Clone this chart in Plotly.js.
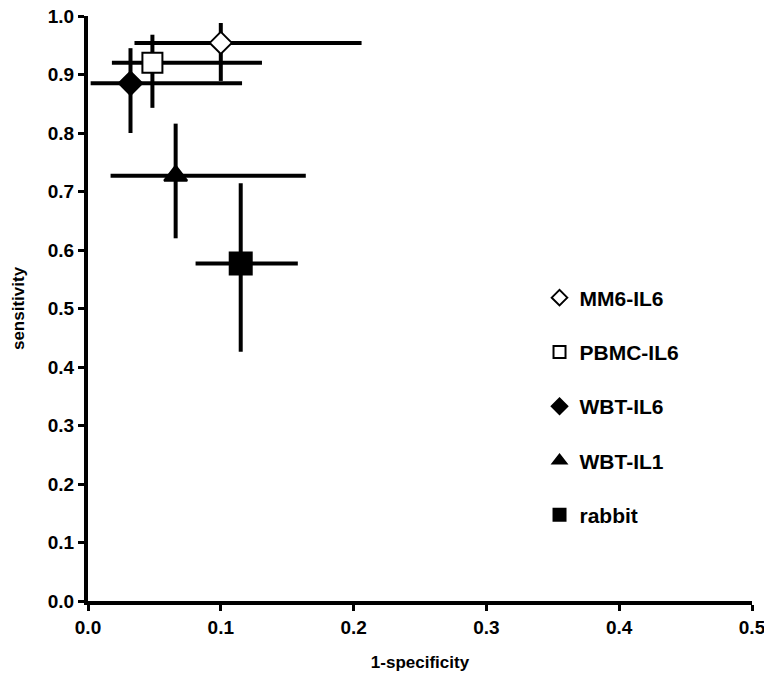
<!DOCTYPE html>
<html>
<head>
<meta charset="utf-8">
<script src="https://cdn.plot.ly/plotly-3.0.1.min.js"></script>
<style>html,body{margin:0;padding:0;background:#fff;}#chart{width:764px;height:682px;}</style>
</head>
<body>
<div id="chart"></div>
<script>
// Data
var names = ["MM6-IL6", "PBMC-IL6", "WBT-IL6", "WBT-IL1", "rabbit"];
var fpr = [0.100, 0.0485, 0.032, 0.066, 0.115];        // 1-specificity
var fprLow = [0.035, 0.018, 0.002, 0.017, 0.081];
var fprHigh = [0.206, 0.131, 0.116, 0.164, 0.158];
var sens = [0.954, 0.920, 0.885, 0.727, 0.577];         // sensitivity
var sensLow = [0.889, 0.843, 0.800, 0.620, 0.426];
var sensHigh = [0.988, 0.968, 0.945, 0.816, 0.714];
var xTicks = [0, 0.1, 0.2, 0.3, 0.4, 0.5];
var xTickText = ["0.0", "0.1", "0.2", "0.3", "0.4", "0.5"];
var yTicks = [0, 0.1, 0.2, 0.3, 0.4, 0.5, 0.6, 0.7, 0.8, 0.9, 1.0];
var yTickText = ["0.0", "0.1", "0.2", "0.3", "0.4", "0.5", "0.6", "0.7", "0.8", "0.9", "1.0"];

var symbols = ["diamond", "square", "diamond", "triangle-up", "square"];
var fills = ["#ffffff", "#ffffff", "#000000", "#000000", "#000000"];
var sizes = [17, 20, 18, 20, 22];

var traces = names.map(function (n, i) {
  return {
    type: "scatter",
    mode: "markers",
    name: n,
    legendgroup: "g" + i,
    x: [fpr[i]],
    y: [sens[i]],
    error_x: {type: "data", symmetric: false, array: [fprHigh[i] - fpr[i]], arrayminus: [fpr[i] - fprLow[i]], color: "#000", thickness: 4, width: 0},
    error_y: {type: "data", symmetric: false, array: [sensHigh[i] - sens[i]], arrayminus: [sens[i] - sensLow[i]], color: "#000", thickness: 4, width: 0},
    marker: {symbol: symbols[i], color: fills[i], size: sizes[i], line: {color: "#000", width: 2}},
    cliponaxis: false
  };
});

var font = "'Liberation Sans', Arial, sans-serif";
var layout = {
  width: 764, height: 682,
  margin: {l: 88, r: 12, t: 16, b: 81},
  paper_bgcolor: "#fff", plot_bgcolor: "#fff",
  font: {family: font, color: "#000"},
  showlegend: true,
  legend: {x: 0.68, y: 0.553, xanchor: "left", yanchor: "top", bgcolor: "rgba(0,0,0,0)",
           font: {family: font, size: 21, weight: "bold", color: "#000"},
           tracegroupgap: 24, traceorder: "grouped", itemsizing: "constant"},
  xaxis: {range: [0, 0.5], tickvals: xTicks, ticktext: xTickText, showgrid: false, zeroline: false,
          showline: true, linecolor: "#000", linewidth: 4, ticks: "outside", ticklen: 6, tickwidth: 3, tickcolor: "#000",
          ticklabeloverflow: "allow",
          tickfont: {family: font, size: 19, weight: "bold"},
          title: {text: "1-specificity", font: {family: font, size: 17, weight: "bold"}, standoff: 20}},
  yaxis: {range: [0, 1.0], tickvals: yTicks, ticktext: yTickText, showgrid: false, zeroline: false,
          showline: true, linecolor: "#000", linewidth: 4, ticks: "outside", ticklen: 6, tickwidth: 3, tickcolor: "#000",
          tickfont: {family: font, size: 19, weight: "bold"},
          title: {text: "sensitivity", font: {family: font, size: 17, weight: "bold"}, standoff: 20}}
};

Plotly.newPlot("chart", traces, layout, {displayModeBar: false, staticPlot: true});
</script>
</body>
</html>
